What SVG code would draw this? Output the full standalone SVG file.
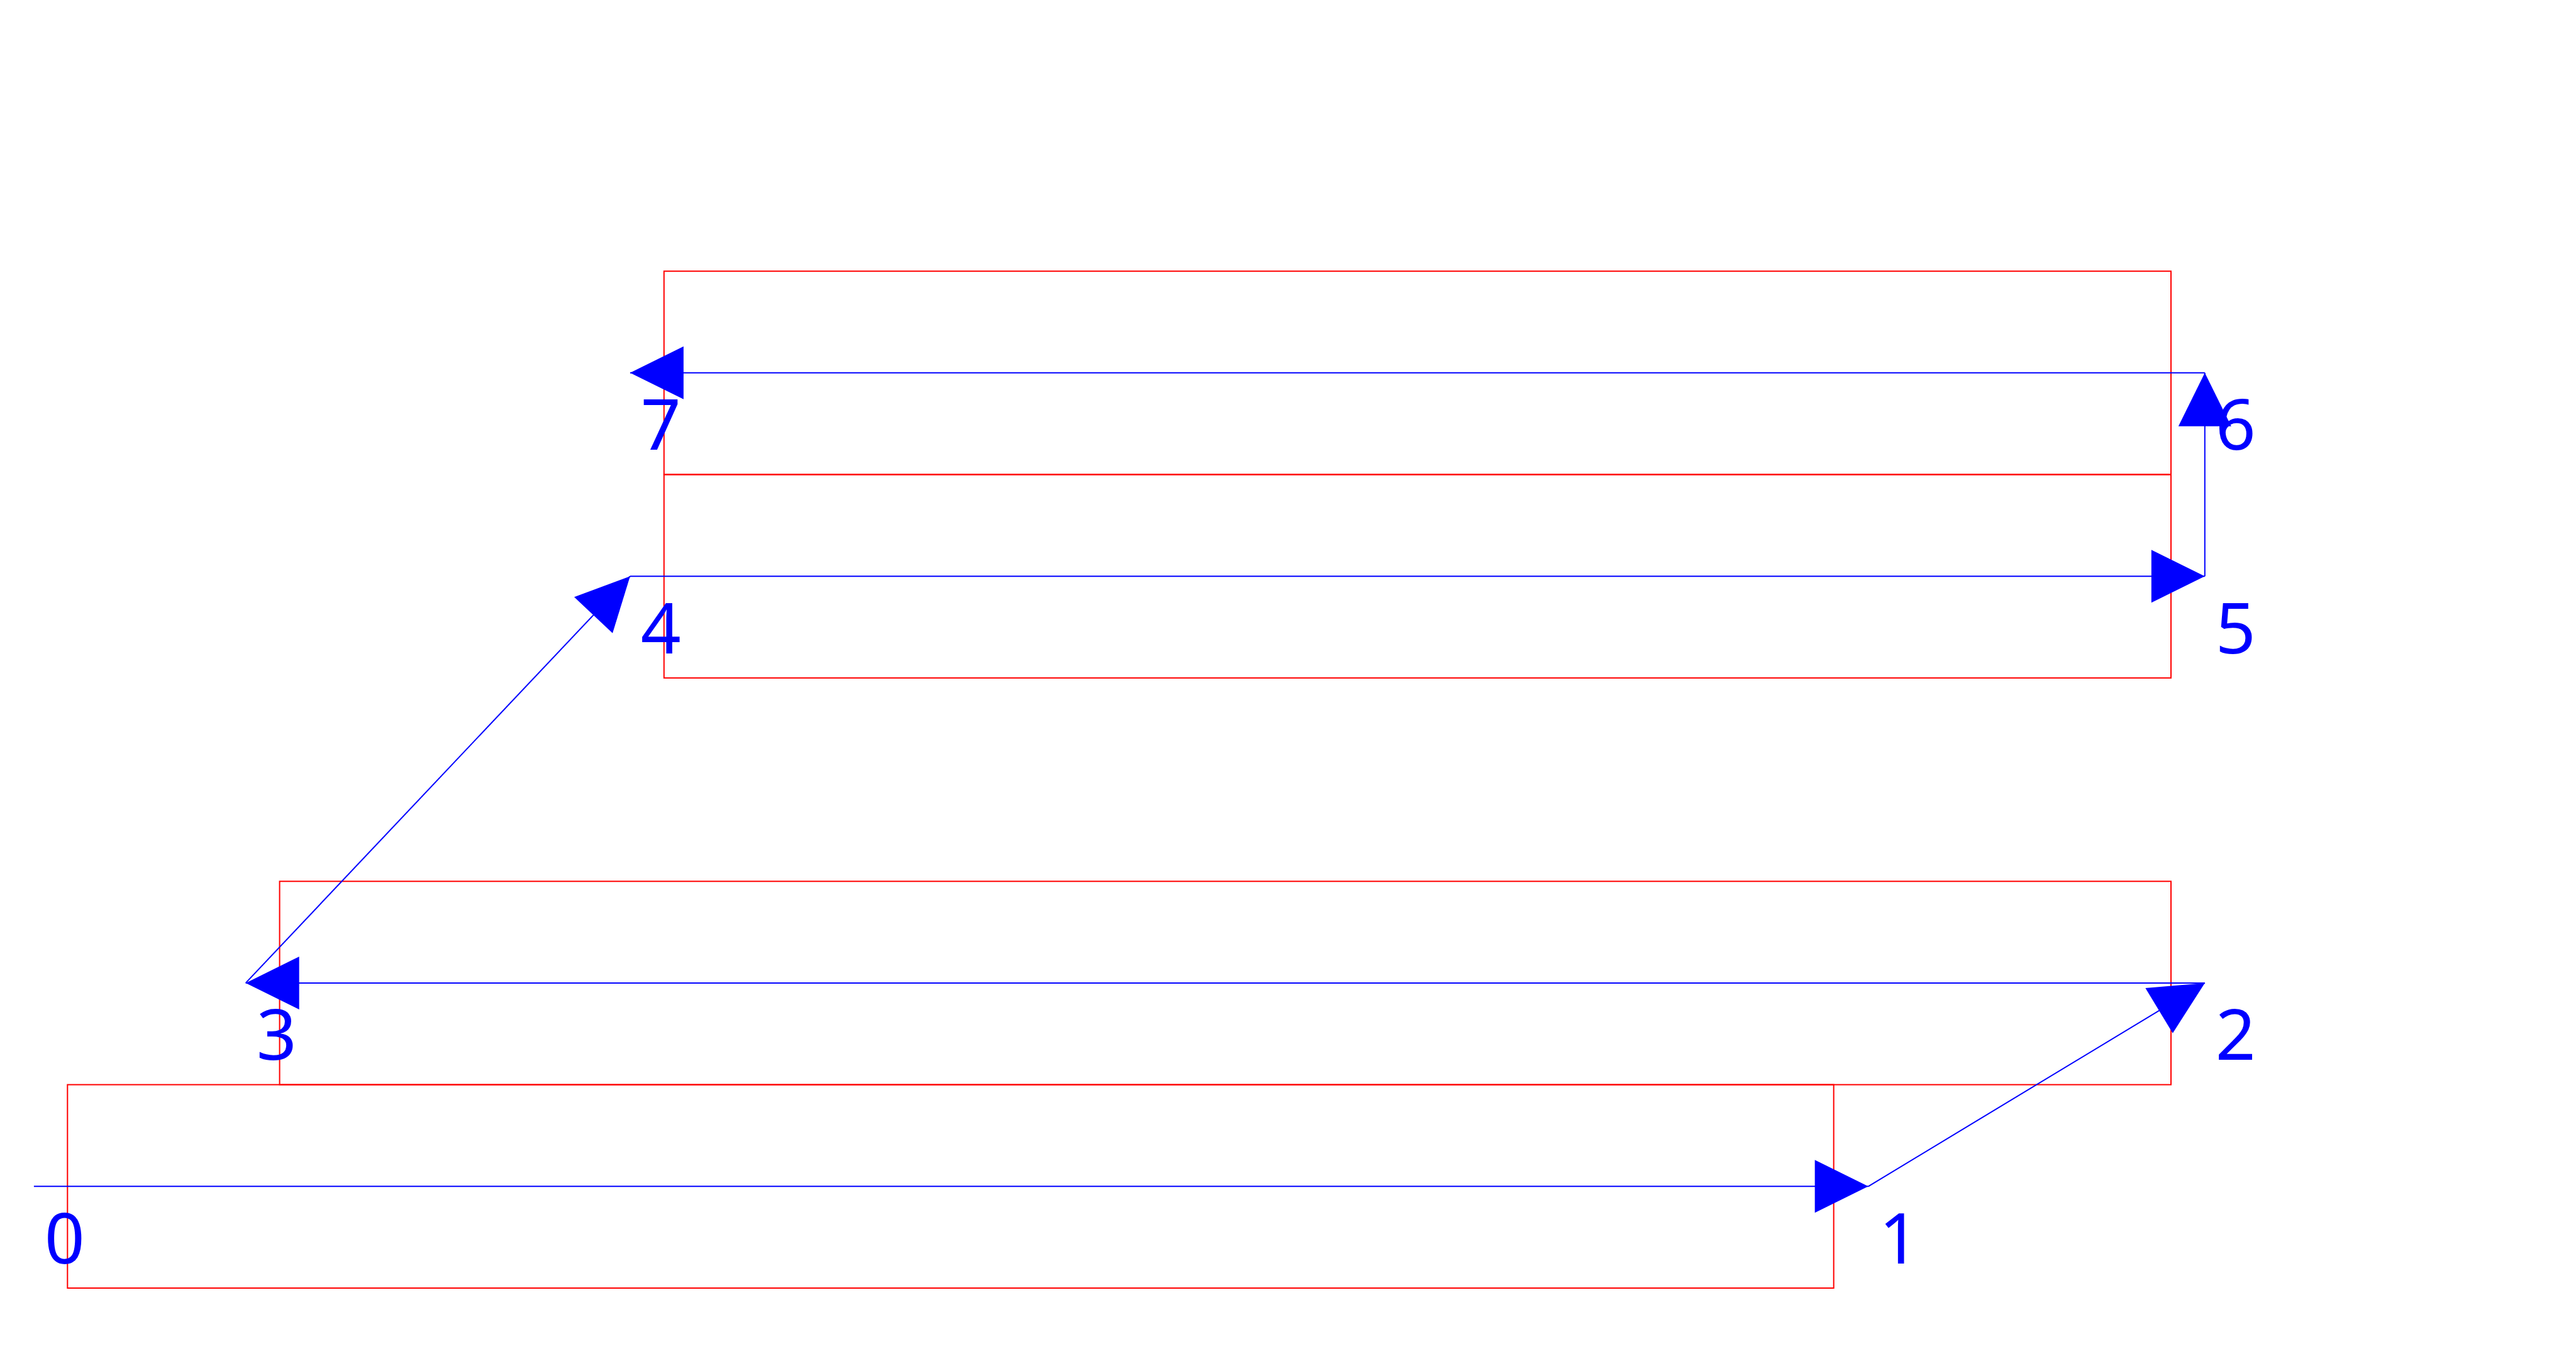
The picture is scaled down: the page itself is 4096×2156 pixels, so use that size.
<svg xmlns="http://www.w3.org/2000/svg" width="4096" height="2156" viewBox="0 0 4096 2156">
<style>
.box{fill:none;stroke:#FF0000;stroke-width:2}
.edge{fill:none;stroke:#0000FF;stroke-width:2}
.lbl{font-family:"Noto Sans","Open Sans","DejaVu Sans",sans-serif;font-size:112px;fill:#0000FF;text-anchor:middle}
</style>
<defs>
<marker id="arrow" markerUnits="userSpaceOnUse" markerWidth="85" markerHeight="84" refX="85" refY="42" orient="auto" overflow="visible">
<path d="M0,0 L85,42 L0,84 Z" fill="#0000FF"/>
</marker>
</defs>
<rect width="4096" height="2156" fill="#FFFFFF"/>
<g id="node-a"><rect class="box" x="107.3" y="1724.6" width="2808.4" height="323.4"/></g>
<g id="node-b"><rect class="box" x="444.6" y="1401.3" width="3007.4" height="323.3"/></g>
<g id="node-c1"><rect class="box" x="1055.8" y="431.2" width="2396.2" height="323.3"/></g>
<g id="node-c2"><rect class="box" x="1055.8" y="754.5" width="2396.2" height="323.4"/></g>
<g id="connectors">
<line class="edge" x1="53.9" y1="1886.3" x2="2970.7" y2="1886.3" marker-end="url(#arrow)"/>
<line class="edge" x1="2970.7" y1="1886.3" x2="3505.8" y2="1562.9" marker-end="url(#arrow)"/>
<line class="edge" x1="3505.8" y1="1562.9" x2="390.7" y2="1562.9" marker-end="url(#arrow)"/>
<line class="edge" x1="390.7" y1="1562.9" x2="1001.9" y2="916.2" marker-end="url(#arrow)"/>
<line class="edge" x1="1001.9" y1="916.2" x2="3505.8" y2="916.2" marker-end="url(#arrow)"/>
<line class="edge" x1="3505.8" y1="916.2" x2="3505.8" y2="592.8" marker-end="url(#arrow)"/>
<line class="edge" x1="3505.8" y1="592.8" x2="1001.9" y2="592.8" marker-end="url(#arrow)"/>
</g>
<g id="labels">
<text class="lbl" x="102.9" y="2008.6">0</text>
<text class="lbl" x="3019.7" y="2008.6">1</text>
<text class="lbl" x="3554.9" y="1685.3">2</text>
<text class="lbl" x="439.8" y="1685.3">3</text>
<text class="lbl" x="1050.9" y="1038.6">4</text>
<text class="lbl" x="3554.9" y="1038.6">5</text>
<text class="lbl" x="3554.9" y="715.2">6</text>
<text class="lbl" x="1050.9" y="715.2">7</text>
</g>
</svg>
